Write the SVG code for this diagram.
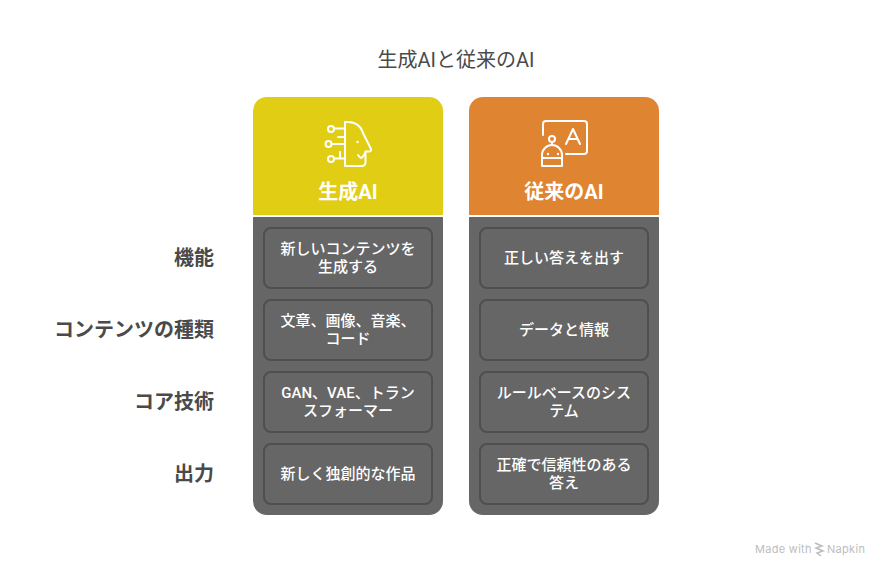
<svg xmlns="http://www.w3.org/2000/svg" width="888" height="576" viewBox="0 0 888 576">
<style>
text{font-family:"Roboto","Noto Sans CJK JP",sans-serif}
.cell{fill:#666666;stroke:#4f4f4f;stroke-width:2}
.t{font-size:15px;font-weight:500;fill:#fff;text-anchor:middle}
.h{font-size:20px;font-weight:700;fill:#fff;text-anchor:middle}
.l{font-size:20px;font-weight:700;fill:#4a4a4a;text-anchor:end}
.i{fill:none;stroke:#fff;stroke-width:2;stroke-linecap:round;stroke-linejoin:round}
.f{font-family:"Inter",sans-serif;font-size:11px;fill:#bdbdbd;letter-spacing:.3px}
</style>
<rect width="888" height="576" fill="#fff"/>
<text id="title" x="456" y="67" font-size="20" fill="#4a4a4a" text-anchor="middle">生成AIと従来のAI</text>
<g id="col-gen">
<path d="M253 215V111a14 14 0 0 1 14-14H429a14 14 0 0 1 14 14V215Z" fill="#e1cd14"/>
<path d="M253 217H443V501a14 14 0 0 1-14 14H267a14 14 0 0 1-14-14Z" fill="#666666"/>
<g class="i">
<path d="M345 122h3c8 0 13 5 15 11l8 16c.6 1.500-.5 2.500-2 2.500h-3.500V162c0 2.500-1.500 4-4 4h-16.500Z"/>
<circle cx="331" cy="129" r="3"/><circle cx="328.500" cy="144" r="3"/><circle cx="331" cy="159" r="3"/>
<path d="M334 128.500H345M338 137H345M331.500 144H345M334 158.500H340V152M340 158.500H345"/>
<path d="M358 155c1 1.500 2 2.500 3.500 3 1.500-1 3-3 3.500-5"/>
</g>
<circle cx="357.500" cy="142" r="1.200" fill="#fff"/>
<text class="h" x="348" y="199">生成AI</text>
</g>
<g id="col-trad">
<path d="M469 215V111a14 14 0 0 1 14-14H645a14 14 0 0 1 14 14V215Z" fill="#df8430"/>
<path d="M469 217H659V501a14 14 0 0 1-14 14H483a14 14 0 0 1-14-14Z" fill="#666666"/>
<g class="i">
<path d="M543 135V124a3 3 0 0 1 3-3H584a3 3 0 0 1 3 3V151a3 3 0 0 1-3 3H566"/>
<path d="M566 144L573 129L580 144M568.500 139H577.500"/>
<circle cx="552" cy="139" r="3"/>
<path d="M552 142V145M542 166V155a10 10 0 0 1 20 0V166ZM542 158H562"/>
</g>
<circle cx="548" cy="154" r="1.200" fill="#fff"/><circle cx="558" cy="154" r="1.200" fill="#fff"/>
<text class="h" x="564" y="199">従来のAI</text>
</g>
<g id="row-labels">
<text class="l" x="214" y="265">機能</text>
<text class="l" x="214" y="337">コンテンツの種類</text>
<text class="l" x="214" y="409">コア技術</text>
<text class="l" x="214" y="481">出力</text>
</g>
<g id="gen-1"><rect class="cell" x="264" y="228" width="168" height="60" rx="7"/><text class="t" x="348" y="254">新しいコンテンツを</text><text class="t" x="348" y="272">生成する</text></g>
<g id="gen-2"><rect class="cell" x="264" y="300" width="168" height="60" rx="7"/><text class="t" x="348" y="326">文章、画像、音楽、</text><text class="t" x="348" y="344">コード</text></g>
<g id="gen-3"><rect class="cell" x="264" y="372" width="168" height="60" rx="7"/><text class="t" x="348" y="398">GAN、VAE、トラン</text><text class="t" x="348" y="416">スフォーマー</text></g>
<g id="gen-4"><rect class="cell" x="264" y="444" width="168" height="60" rx="7"/><text class="t" x="348" y="479">新しく独創的な作品</text></g>
<g id="trad-1"><rect class="cell" x="480" y="228" width="168" height="60" rx="7"/><text class="t" x="564" y="263">正しい答えを出す</text></g>
<g id="trad-2"><rect class="cell" x="480" y="300" width="168" height="60" rx="7"/><text class="t" x="564" y="335">データと情報</text></g>
<g id="trad-3"><rect class="cell" x="480" y="372" width="168" height="60" rx="7"/><text class="t" x="564" y="398">ルールベースのシス</text><text class="t" x="564" y="416">テム</text></g>
<g id="trad-4"><rect class="cell" x="480" y="444" width="168" height="60" rx="7"/><text class="t" x="564" y="470">正確で信頼性のある</text><text class="t" x="564" y="488">答え</text></g>
<g id="connectors"/>
<g id="footer">
<text class="f" x="755" y="553">Made with</text>
<path d="M815 543l7 3-6 2 7 3-6 2 4 3" fill="none" stroke="#bdbdbd" stroke-width="1.500"/>
<text class="f" x="827" y="553">Napkin</text>
</g>
</svg>
